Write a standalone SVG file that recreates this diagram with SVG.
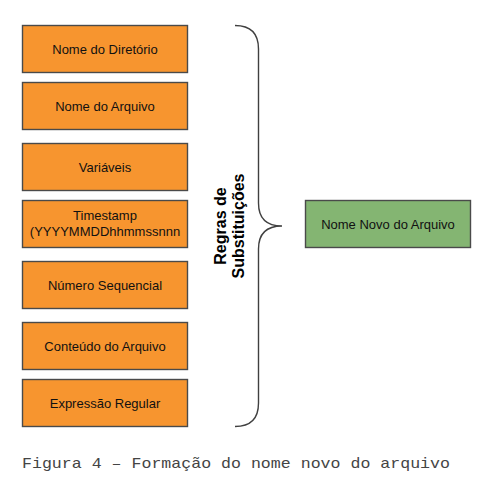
<svg xmlns="http://www.w3.org/2000/svg" width="483" height="480" viewBox="0 0 483 480">
<style>
.src{fill:#F7952F;stroke:#4a4a4a;stroke-width:1.4}
.dst{fill:#84B572;stroke:#4a4a4a;stroke-width:1.4}
.lbl{font-family:"Liberation Sans",Arial,sans-serif;font-size:13px;fill:#111;text-anchor:middle}
.brace{fill:none;stroke:#404040;stroke-width:1.4}
.rot{font-family:"Liberation Sans",Arial,sans-serif;font-size:16px;font-weight:bold;fill:#000;text-anchor:middle}
.cap{font-family:"Liberation Mono","Courier New",monospace;font-size:15px;fill:#444}
</style>
<rect width="483" height="480" fill="#fff"/>
<g id="n1"><rect class="src" x="22.5" y="25.5" width="165" height="47"/><text class="lbl" x="105" y="53.5">Nome do Diretório</text></g>
<g id="n2"><rect class="src" x="22.5" y="82.5" width="165" height="47"/><text class="lbl" x="105" y="110.5">Nome do Arquivo</text></g>
<g id="n3"><rect class="src" x="22.5" y="143.5" width="165" height="47"/><text class="lbl" x="105" y="171.5">Variáveis</text></g>
<g id="n4"><rect class="src" x="22.5" y="200.5" width="165" height="47"/><text class="lbl" x="105" y="220">Timestamp</text><text class="lbl" x="105" y="236">(YYYYMMDDhhmmssnnn</text></g>
<g id="n5"><rect class="src" x="22.5" y="261.5" width="165" height="47"/><text class="lbl" x="105" y="289.5">Número Sequencial</text></g>
<g id="n6"><rect class="src" x="22.5" y="322.5" width="165" height="47"/><text class="lbl" x="105" y="350.5">Conteúdo do Arquivo</text></g>
<g id="n7"><rect class="src" x="22.5" y="379.5" width="165" height="47"/><text class="lbl" x="105" y="407.5">Expressão Regular</text></g>
<g id="n8"><rect class="dst" x="305.5" y="200.5" width="165" height="47"/><text class="lbl" x="388" y="228.5">Nome Novo do Arquivo</text></g>
<g id="connectors">
<path class="brace" d="M235,25.5 Q258.5,25.5 258.5,49 L258.5,203 Q258.5,226 282,226 Q258.5,226 258.5,249 L258.5,403 Q258.5,426.5 235,426.5"/>
<g transform="translate(226,226) rotate(-90)"><text class="rot" x="0" y="0">Regras de</text><text class="rot" x="0" y="17.5">Substituições</text></g>
</g>
<text class="cap" x="22" y="468" textLength="428" lengthAdjust="spacingAndGlyphs">Figura 4 – Formação do nome novo do arquivo</text>
</svg>
